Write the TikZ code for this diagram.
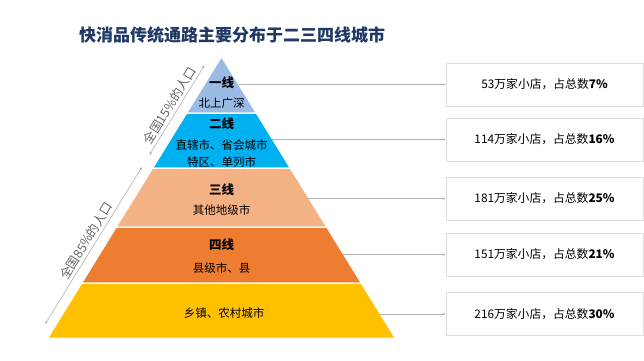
\documentclass[tikz,border=0pt]{standalone}
\usepackage{fontspec}
\setmainfont{Noto Sans CJK SC}
\usepackage{tikz}
\usetikzlibrary{positioning,arrows.meta}
\definecolor{titleblue}{RGB}{31,56,100}
\definecolor{tierA}{HTML}{9BBBE4}
\definecolor{tierB}{HTML}{00B0F0}
\definecolor{tierC}{HTML}{F4B183}
\definecolor{tierD}{HTML}{ED7D31}
\definecolor{tierE}{HTML}{FFC000}
\tikzset{
  band/.style={draw=white, line width=0.8pt},
  tiername/.style={font=\fontsize{12.5}{14}\selectfont\bfseries, inner sep=0pt},
  tiertext/.style={font=\fontsize{11.5}{13}\selectfont, inner sep=0pt},
  infobox/.style={rectangle, draw=gray!25, fill=white, minimum width=197pt, minimum height=43pt,
                  font=\fontsize{11.8}{14}\selectfont},
  link/.style={-{Latex[length=3pt,width=2.5pt]}, draw=gray!60, line width=0.6pt},
  span/.style={{Latex[length=3pt,width=2.5pt]}-{Latex[length=3pt,width=2.5pt]}, draw=gray!70, line width=0.5pt},
  spanlabel/.style={font=\fontsize{12.5}{14}\selectfont, text=gray!80!black, sloped, above, inner sep=2.5pt},
}

\begin{document}
\begin{tikzpicture}[x=1pt, y=-1pt]
\useasboundingbox (0,0) rectangle (644,360);

%Title
\node[font=\fontsize{17}{20}\selectfont\bfseries, text=titleblue] (title) at (232,35) {快消品传统通路主要分布于二三四线城市};

%Pyramid bands
\fill[tierA, band] (221.5,57) -- (256.1,113) -- (186.9,113) -- cycle;
\fill[tierB, band] (186.9,113) -- (256.1,113) -- (290.0,168) -- (153.0,168) -- cycle;
\fill[tierC, band] (153.0,168) -- (290.0,168) -- (326.5,227) -- (116.5,227) -- cycle;
\fill[tierD, band] (116.5,227) -- (326.5,227) -- (361.0,283) -- (82.0,283) -- cycle;
\fill[tierE, band] (82.0,283) -- (361.0,283) -- (395.0,338) -- (48.0,338) -- cycle;
\draw[white, line width=0.8pt] (186.9,113) -- (256.1,113);
\draw[white, line width=0.8pt] (153.0,168) -- (290.0,168);
\draw[white, line width=0.8pt] (116.5,227) -- (326.5,227);
\draw[white, line width=0.8pt] (82.0,283) -- (361.0,283);

%Tier labels
\node[tiername] (t1) at (221.5,83) {一线};
\node[tiertext] (t1a) at (221.5,103) {北上广深};
\node[tiername] (t2) at (221.5,124) {二线};
\node[tiertext] (t2a) at (221.5,145) {直辖市、省会城市};
\node[tiertext] (t2b) at (221.5,162) {特区、单列市};
\node[tiername] (t3) at (221.5,190) {三线};
\node[tiertext] (t3a) at (221.5,210) {其他地级市};
\node[tiername] (t4) at (221.5,245) {四线};
\node[tiertext] (t4a) at (221.5,268) {县级市、县};
\node[tiertext] (t5a) at (224,313) {乡镇、农村城市};

%Boxes
\node[infobox] (box1) at (544.5,84.5) {53万家小店，占总数\textbf{7\%}};
\node[infobox] (box2) at (544.5,139.5) {114万家小店，占总数\textbf{16\%}};
\node[infobox] (box3) at (544.5,198.5) {181万家小店，占总数\textbf{25\%}};
\node[infobox] (box4) at (544.5,254.5) {151万家小店，占总数\textbf{21\%}};
\node[infobox] (box5) at (544.5,314) {216万家小店，占总数\textbf{30\%}};

%Lines
\coordinate (e1) at (238.8,84.5);
\coordinate (e2) at (272.1,139.5);
\coordinate (e3) at (307.9,198.5);
\coordinate (e4) at (343.1,254.5);
\coordinate (e5) at (379.6,314);
\foreach \i in {1,...,5}
  \draw[link] (e\i) -- (box\i.west);

%Population spans
\coordinate (s1a) at (149.4,155);
\coordinate (s1b) at (204.6,65);
\coordinate (s2a) at (45.1,324);
\coordinate (s2b) at (142.0,167);
\draw[span] (s1a) -- (s1b) node[midway, spanlabel] {全国15\%的人口};
\draw[span] (s2a) -- (s2b) node[midway, spanlabel] {全国85\%的人口};
\end{tikzpicture}
\end{document}
